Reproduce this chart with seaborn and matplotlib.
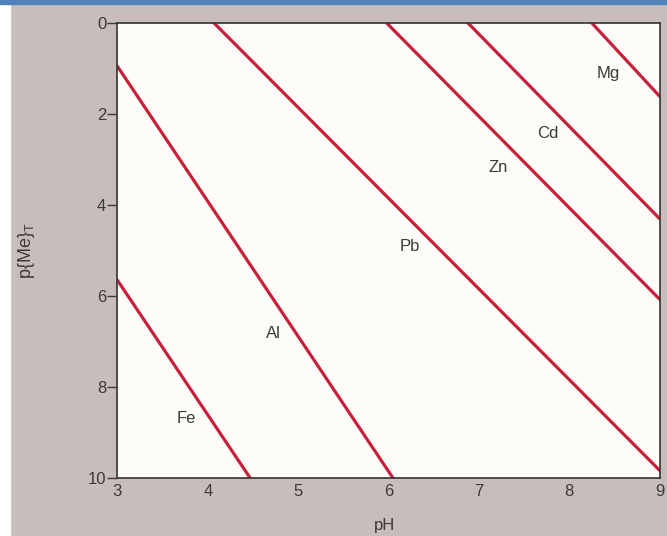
#!/usr/bin/env python3
"""
Solubility of metal hydroxides: p{Me}_T vs pH
"""

import matplotlib.pyplot as plt
from matplotlib.patches import Rectangle
import seaborn as sns
import pandas as pd

# line end points (pH, p{Me}T)
metals = ['Fe', 'Al', 'Pb', 'Zn', 'Cd', 'Mg']
ph_start = [3.0, 3.0, 4.07, 5.98, 6.88, 8.25]
p_start = [5.65, 0.95, 0.0, 0.0, 0.0, 0.0]
ph_end = [4.47, 6.05, 9.0, 9.0, 9.0, 9.0]
p_end = [10.0, 10.0, 9.83, 6.07, 4.30, 1.61]

# where the metal names sit
label_ph = [3.76, 4.73, 6.24, 7.21, 7.76, 8.43]
label_p = [8.68, 6.82, 4.92, 3.17, 2.42, 1.10]

x_ticks = [3, 4, 5, 6, 7, 8, 9]
y_ticks = [0, 2, 4, 6, 8, 10]

sns.set_style('white')
plt.rcParams['font.family'] = ['Liberation Sans', 'DejaVu Sans']

rows = []
for m, x0, y0, x1, y1 in zip(metals, ph_start, p_start, ph_end, p_end):
    rows.append({'metal': m, 'pH': x0, 'pMe': y0})
    rows.append({'metal': m, 'pH': x1, 'pMe': y1})
df = pd.DataFrame(rows)

fig = plt.figure(figsize=(6.67, 5.36), dpi=100, facecolor='#c9bdbb')
# scan border: white strip on the left, blue band on top
fig.patches.append(Rectangle((0, 0), 10 / 667, 1, transform=fig.transFigure,
                             color='white', zorder=0))
fig.patches.append(Rectangle((0, 1 - 4 / 536), 1, 4 / 536, transform=fig.transFigure,
                             color='#4f81bd', zorder=0))

ax = fig.add_axes([0.176, 0.108, 0.813, 0.849])
ax.set_facecolor('#fdfcf8')

sns.lineplot(data=df, x='pH', y='pMe', units='metal', estimator=None,
             color='#c8203a', linewidth=2.3, ax=ax, sort=False)

for m, x, y in zip(metals, label_ph, label_p):
    ax.text(x, y, m, ha='center', va='center', fontsize=12, color='#3a3a3a')

ax.set_xlim(3, 9)
ax.set_ylim(10, 0)
ax.set_xticks(x_ticks)
ax.set_yticks(y_ticks)
ax.tick_params(axis='x', direction='in', length=7, width=1, pad=4,
               labelsize=12, colors='#3a3a3a')
ax.tick_params(axis='y', direction='out', length=7, width=1, pad=1,
               labelsize=12, colors='#3a3a3a', left=True)
for s in ax.spines.values():
    s.set_color('#333333')
    s.set_linewidth(1.2)

ax.set_xlabel('pH', fontsize=12, color='#3a3a3a')
ax.set_ylabel(r'p{Me}$_{\mathregular{T}}$', fontsize=13, color='#3a3a3a')
ax.xaxis.set_label_coords(0.493, -0.088)
ax.yaxis.set_label_coords(-0.148, 0.5)

plt.savefig('out.png', dpi=100, facecolor=fig.get_facecolor())
